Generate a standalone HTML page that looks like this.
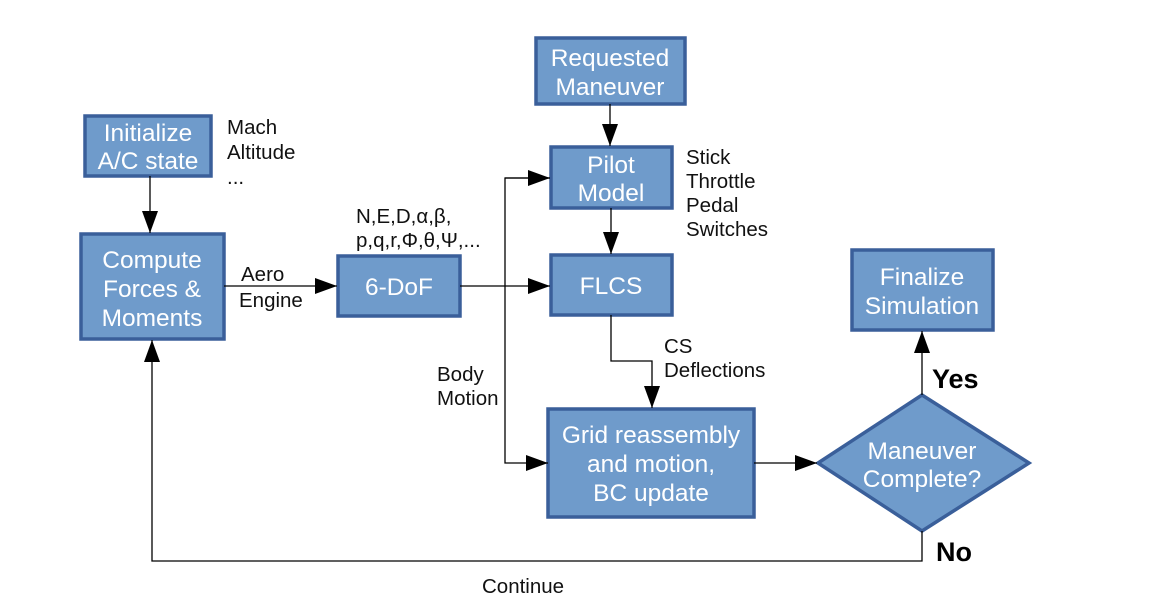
<!DOCTYPE html>
<html><head><style>
body{margin:0;background:#fff;}
svg text{font-family:"Liberation Sans",sans-serif;}
.b{fill:#6f9bcb;stroke:#3a5f9a;stroke-width:3.5;}
.w{fill:#fff;font-size:24.5px;text-anchor:middle;}
.l{fill:#111;font-size:20.5px;}
line,polyline{stroke:#000;stroke-width:1.3;fill:none;}
</style></head><body>
<svg width="1160" height="603" viewBox="0 0 1160 603">
<defs>
<marker id="A" markerWidth="22" markerHeight="16" refX="22" refY="8" orient="auto" markerUnits="userSpaceOnUse"><path d="M0,0 L22,8 L0,16 z" fill="#000"/></marker></defs>
<rect class="b" x="85" y="116" width="126" height="60"/>
<text class="w" x="148" y="141">Initialize</text><text class="w" x="148" y="169">A/C state</text>
<rect class="b" x="81" y="234" width="143" height="105"/>
<text class="w" x="152" y="268">Compute</text><text class="w" x="152" y="297">Forces &amp;</text><text class="w" x="152" y="326">Moments</text>
<rect class="b" x="338" y="256" width="122" height="60"/>
<text class="w" x="399" y="295">6-DoF</text>
<rect class="b" x="536" y="38" width="149" height="66"/>
<text class="w" x="610" y="66">Requested</text><text class="w" x="610" y="95">Maneuver</text>
<rect class="b" x="551" y="147" width="121" height="61"/>
<text class="w" x="611" y="173">Pilot</text><text class="w" x="611" y="201">Model</text>
<rect class="b" x="551" y="255" width="121" height="60"/>
<text class="w" x="611" y="294">FLCS</text>
<rect class="b" x="548" y="409" width="206" height="108"/>
<text class="w" x="651" y="443">Grid reassembly</text><text class="w" x="651" y="472">and motion,</text><text class="w" x="651" y="501">BC update</text>
<rect class="b" x="852" y="250" width="141" height="80"/>
<text class="w" x="922" y="285">Finalize</text><text class="w" x="922" y="314">Simulation</text>
<polygon class="b" points="922,395 1029,463 922,531 818,463"/>
<text class="w" x="922" y="459">Maneuver</text><text class="w" x="922" y="487">Complete?</text>
<line x1="150" y1="176" x2="150" y2="233" marker-end="url(#A)"/>
<line x1="224" y1="286" x2="337" y2="286" marker-end="url(#A)"/>
<line x1="610" y1="104" x2="610" y2="146" marker-end="url(#A)"/>
<line x1="611" y1="208" x2="611" y2="254" marker-end="url(#A)"/>
<line x1="460" y1="286" x2="550" y2="286" marker-end="url(#A)"/>
<polyline points="550,178 505,178 505,463 548,463" marker-end="url(#A)"/>
<line x1="505" y1="178" x2="550" y2="178" marker-end="url(#A)"/>
<polyline points="611,315 611,361 652,361 652,408" marker-end="url(#A)"/>
<line x1="754" y1="463" x2="817" y2="463" marker-end="url(#A)"/>
<line x1="922" y1="395" x2="922" y2="331" marker-end="url(#A)"/>
<polyline points="922,531 922,561 152,561 152,340" marker-end="url(#A)"/>
<text class="l" x="227" y="134">Mach</text><text class="l" x="227" y="159">Altitude</text><text class="l" x="227" y="184">...</text>
<text class="l" x="356" y="223">N,E,D,α,β,</text><text class="l" x="356" y="247">p,q,r,Φ,θ,Ψ,...</text>
<text class="l" x="241" y="281">Aero</text><text class="l" x="239" y="307">Engine</text>
<text class="l" x="686" y="164">Stick</text><text class="l" x="686" y="188">Throttle</text><text class="l" x="686" y="212">Pedal</text><text class="l" x="686" y="236">Switches</text>
<text class="l" x="664" y="353">CS</text><text class="l" x="664" y="377">Deflections</text>
<text class="l" x="437" y="381">Body</text><text class="l" x="437" y="405">Motion</text>
<text class="l" x="482" y="593">Continue</text>
<text x="932" y="388" style="font-size:27px;font-weight:bold;fill:#000">Yes</text>
<text x="936" y="561" style="font-size:27px;font-weight:bold;fill:#000">No</text>
</svg>
</body></html>
